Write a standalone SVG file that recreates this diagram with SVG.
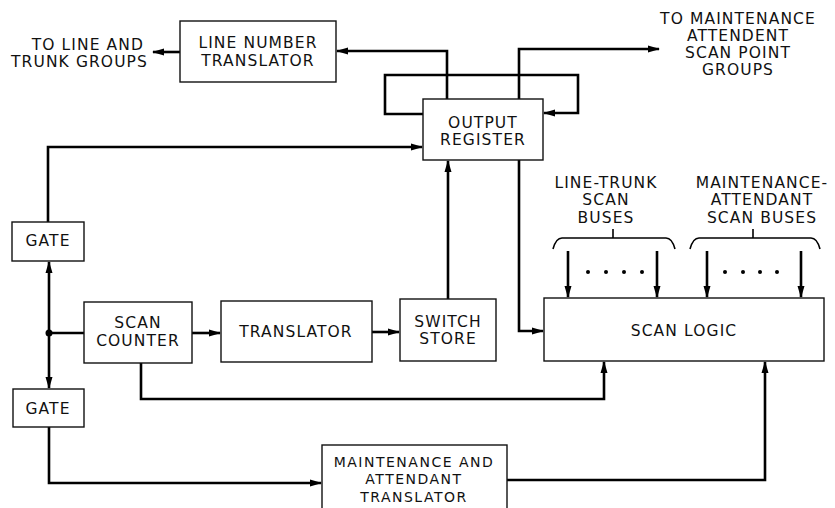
<svg xmlns="http://www.w3.org/2000/svg" width="835" height="508" viewBox="0 0 835 508">
<defs>
<style>
.box{fill:#fff;stroke:#111;stroke-width:1.4}
.ln{fill:none;stroke:#000;stroke-width:2.6}
.thin{fill:none;stroke:#000;stroke-width:1.6}
text{font-family:"DejaVu Sans","Liberation Sans",sans-serif;font-size:15.5px;fill:#111;text-anchor:middle;letter-spacing:1.1px}
.e{text-anchor:end}
.s{font-size:14px;letter-spacing:1.5px}
</style>
<marker id="a" markerUnits="userSpaceOnUse" markerWidth="12" markerHeight="10" refX="11" refY="5" orient="auto">
<path d="M0,1.5 L12,5 L0,8.5 Z" fill="#000"/>
</marker>
</defs>
<rect width="835" height="508" fill="#fff"/>
<g id="connectors">
<path class="ln" d="M180,52 H153" marker-end="url(#a)"/>
<path class="ln" d="M447,99 V51 H337" marker-end="url(#a)"/>
<path class="ln" d="M519,99 V49 H659" marker-end="url(#a)"/>
<path class="ln" d="M423,114 H385 V75 H578 V113 H544" marker-end="url(#a)"/>
<path class="ln" d="M48,222 V147 H422" marker-end="url(#a)"/>
<path class="ln" d="M49,333 V262" marker-end="url(#a)"/>
<path class="ln" d="M49,333 V388" marker-end="url(#a)"/>
<path class="ln" d="M49,333 H84"/>
<circle cx="49" cy="333" r="3.5" fill="#000"/>
<path class="ln" d="M192,333 H220" marker-end="url(#a)"/>
<path class="ln" d="M372,332 H399" marker-end="url(#a)"/>
<path class="ln" d="M448,299 V161" marker-end="url(#a)"/>
<path class="ln" d="M519,160 V331 H543" marker-end="url(#a)"/>
<path class="ln" d="M141,363 V399 H604 V362" marker-end="url(#a)"/>
<path class="ln" d="M49,427 V483 H321" marker-end="url(#a)"/>
<path class="ln" d="M507,480 H765 V362" marker-end="url(#a)"/>
<path class="ln" d="M568,251 V297" marker-end="url(#a)"/>
<path class="ln" d="M657,251 V297" marker-end="url(#a)"/>
<path class="ln" d="M707,251 V297" marker-end="url(#a)"/>
<path class="ln" d="M801,251 V297" marker-end="url(#a)"/>
<path class="thin" d="M553,249 Q556,238 562,238 H666 Q672,238 675,249"/>
<path class="thin" d="M613,238 V229"/>
<path class="thin" d="M690,249 Q693,238 699,238 H811 Q817,238 820,249"/>
<path class="thin" d="M753,238 V229"/>
<g fill="#000">
<circle cx="588" cy="272" r="2"/><circle cx="606" cy="272" r="2"/><circle cx="624" cy="272" r="2"/><circle cx="642" cy="272" r="2"/>
<circle cx="725" cy="272" r="2"/><circle cx="743" cy="272" r="2"/><circle cx="760" cy="272" r="2"/><circle cx="777" cy="272" r="2"/>
</g>
</g>
<g id="lnt"><rect class="box" x="180" y="21" width="156" height="61"/><text x="258" y="48">LINE NUMBER</text><text x="258" y="66">TRANSLATOR</text></g>
<g id="to-line"><text class="e" x="144" y="50">TO LINE AND</text><text class="e" x="148" y="67">TRUNK GROUPS</text></g>
<g id="to-maint"><text x="738" y="24">TO MAINTENANCE</text><text x="738" y="41">ATTENDENT</text><text x="738" y="58">SCAN POINT</text><text x="738" y="75">GROUPS</text></g>
<g id="output-register"><rect class="box" x="423" y="99" width="120" height="61"/><text x="483" y="128">OUTPUT</text><text x="483" y="145">REGISTER</text></g>
<g id="gate1"><rect class="box" x="12" y="222" width="72" height="39"/><text x="48" y="246">GATE</text></g>
<g id="scan-counter"><rect class="box" x="84" y="302" width="108" height="61"/><text x="138" y="328">SCAN</text><text x="138" y="346">COUNTER</text></g>
<g id="translator"><rect class="box" x="221" y="301" width="151" height="61"/><text x="296" y="337">TRANSLATOR</text></g>
<g id="switch-store"><rect class="box" x="400" y="299" width="96" height="62"/><text x="448" y="327">SWITCH</text><text x="448" y="344">STORE</text></g>
<g id="scan-logic"><rect class="box" x="544" y="298" width="280" height="63"/><text x="684" y="336">SCAN LOGIC</text></g>
<g id="lt-label"><text x="606" y="188">LINE-TRUNK</text><text x="606" y="205">SCAN</text><text x="606" y="223">BUSES</text></g>
<g id="ma-label"><text x="762" y="188">MAINTENANCE-</text><text x="762" y="205">ATTENDANT</text><text x="762" y="223">SCAN BUSES</text></g>
<g id="gate2"><rect class="box" x="13" y="389" width="71" height="38"/><text x="48" y="414">GATE</text></g>
<g id="mat"><rect class="box" x="322" y="445" width="185" height="70"/><text class="s" x="414" y="467">MAINTENANCE AND</text><text class="s" x="414" y="484">ATTENDANT</text><text class="s" x="414" y="502">TRANSLATOR</text></g>
</svg>
